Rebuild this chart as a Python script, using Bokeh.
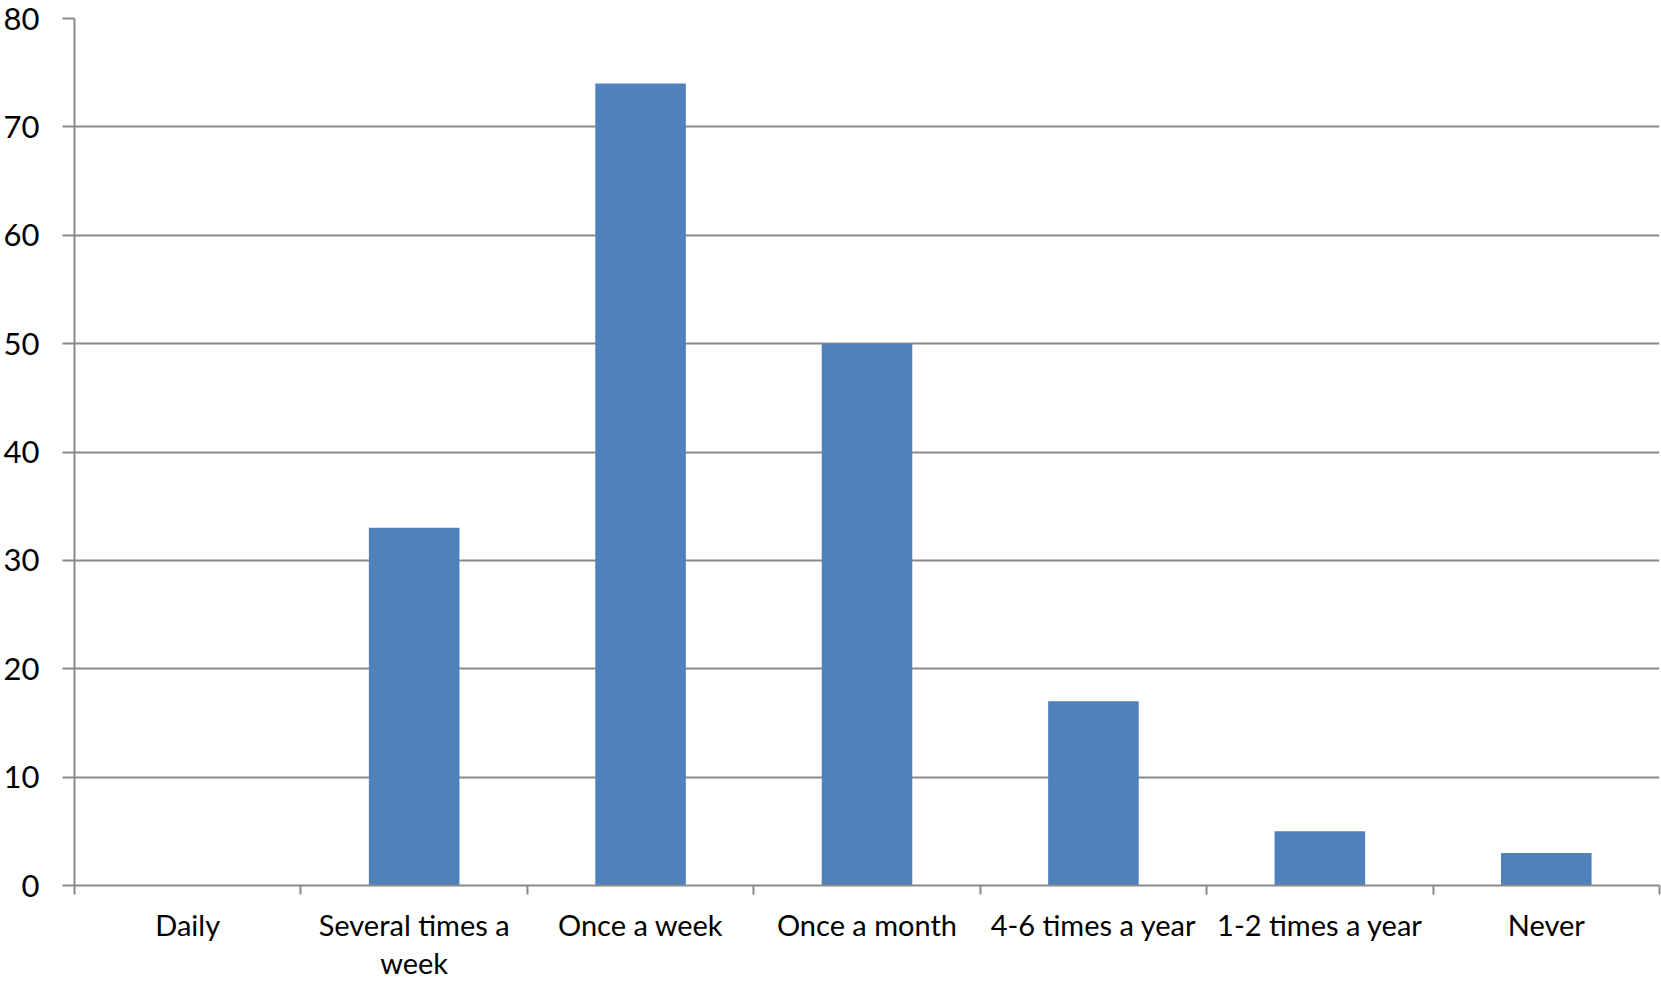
from bokeh.plotting import figure
from bokeh.models import Range1d, FixedTicker
from bokeh.embed import file_html
from bokeh.resources import INLINE

categories = ["Daily", "Several times a\nweek", "Once a week", "Once a month",
              "4-6 times a year", "1-2 times a year", "Never"]
values = [0, 33, 74, 50, 17, 5, 3]
y_ticks = [0, 10, 20, 30, 40, 50, 60, 70, 80]

n = len(categories)
centers = [i + 0.5 for i in range(n)]
bounds = list(range(n + 1))

GRID = "#898989"
FONT = "Lato"

p = figure(width=1661, height=983, output_backend="svg", toolbar_location=None,
           x_range=Range1d(0, n), y_range=Range1d(0, 80),
           min_border_left=73, min_border_right=2, min_border_top=18, min_border_bottom=95)
p.outline_line_color = None
p.background_fill_color = "white"
p.border_fill_color = "white"

p.vbar(x=centers, top=values, width=0.4, color="#4F81BD", line_color=None)

# x axis
p.xaxis.ticker = FixedTicker(ticks=centers, minor_ticks=bounds)
p.xaxis.major_label_overrides = {c: lab for c, lab in zip(centers, categories)}
p.xaxis.major_tick_out = 9
p.xaxis.major_tick_in = 0
p.xaxis.major_tick_line_color = None
p.xaxis.minor_tick_out = 9
p.xaxis.minor_tick_in = 0
p.xaxis.minor_tick_line_color = GRID
p.xaxis.minor_tick_line_width = 2
p.xaxis.axis_line_color = GRID
p.xaxis.axis_line_width = 2
p.xaxis.major_label_standoff = 12
p.xaxis.major_label_text_font = FONT
p.xaxis.major_label_text_font_size = "29px"
p.xaxis.major_label_text_color = "black"
p.xaxis.major_label_text_line_height = 1.1

# y axis
p.yaxis.ticker = FixedTicker(ticks=y_ticks)
p.yaxis.major_tick_out = 12
p.yaxis.major_tick_in = 0
p.yaxis.minor_tick_line_color = None
p.yaxis.major_tick_line_color = GRID
p.yaxis.major_tick_line_width = 2
p.yaxis.axis_line_color = GRID
p.yaxis.axis_line_width = 2
p.yaxis.major_label_standoff = 23
p.yaxis.major_label_text_font = FONT
p.yaxis.major_label_text_font_size = "31px"
p.yaxis.major_label_text_color = "black"

p.xgrid.grid_line_color = None
p.ygrid.ticker = FixedTicker(ticks=y_ticks)
p.ygrid.grid_line_color = GRID
p.ygrid.grid_line_width = 2

open("out.html", "w").write(file_html(p, INLINE))
